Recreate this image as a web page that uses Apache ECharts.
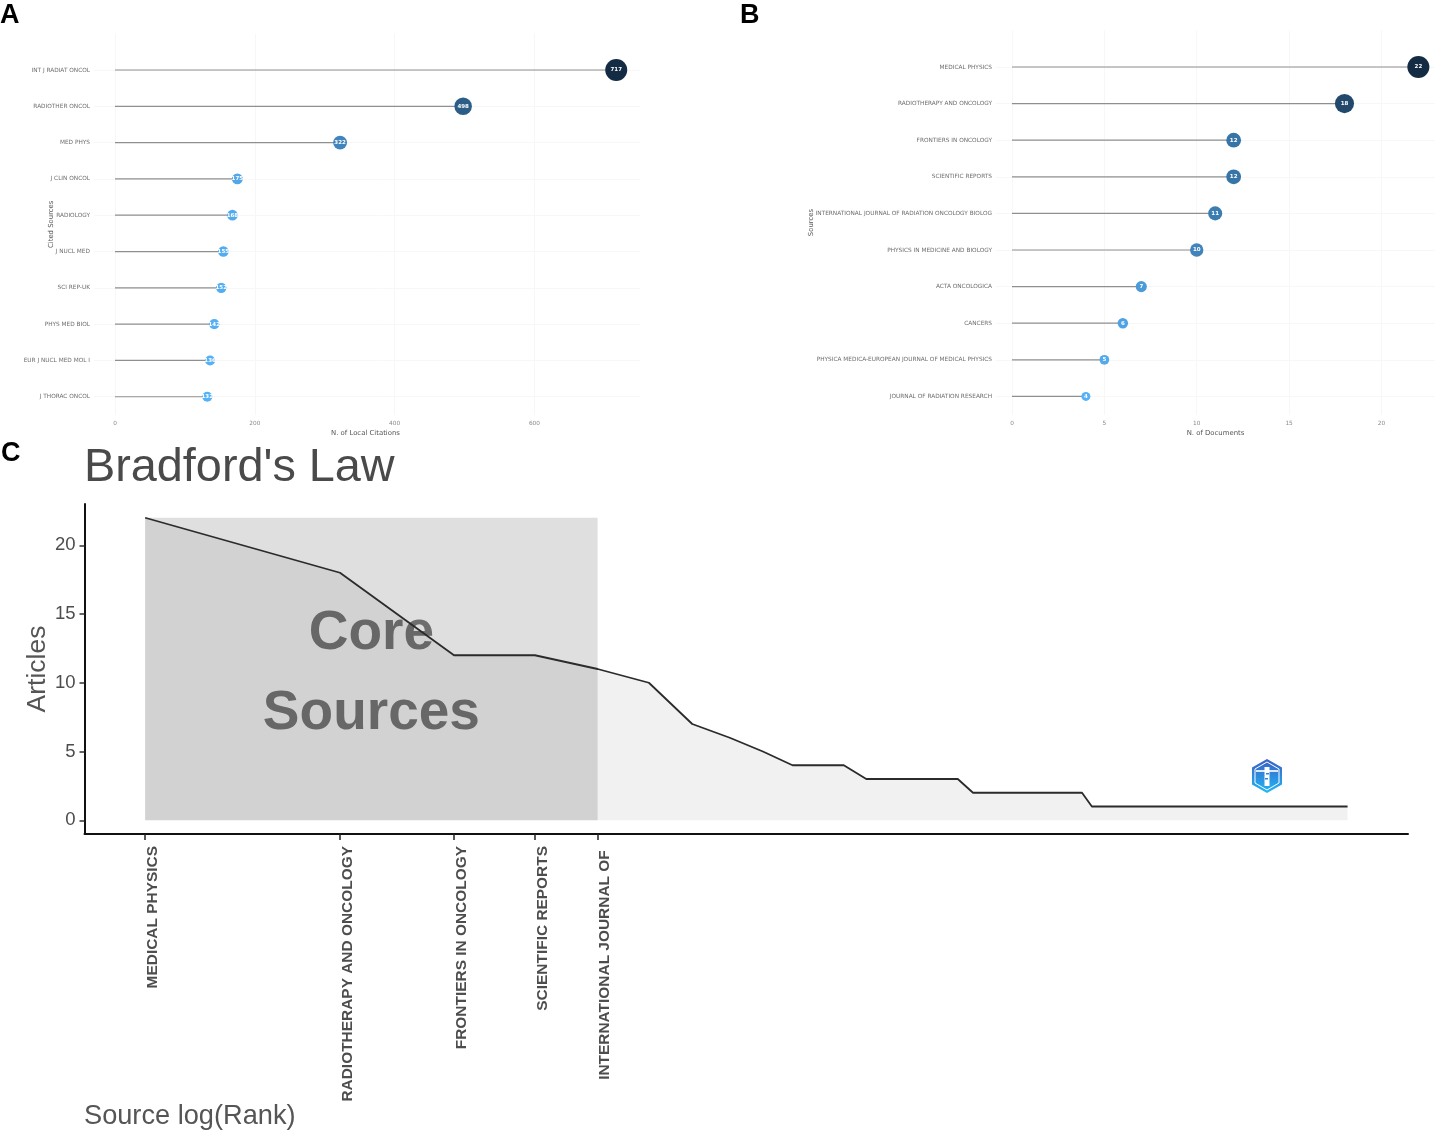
<!DOCTYPE html>
<html>
<head>
<meta charset="utf-8">
<script src="https://cdn.jsdelivr.net/npm/echarts@6/dist/echarts.min.js"></script>
<style>html,body{margin:0;padding:0;background:#fff}#c{width:1440px;height:1131px}</style>
</head>
<body>
<div id="c"></div>
<script>
const citedSources = ['INT J RADIAT ONCOL','RADIOTHER ONCOL','MED PHYS','J CLIN ONCOL','RADIOLOGY','J NUCL MED','SCI REP-UK','PHYS MED BIOL','EUR J NUCL MED MOL I','J THORAC ONCOL'];
const citedCounts = [717,498,322,175,168,155,152,142,136,132];
const sourceNames = ['MEDICAL PHYSICS','RADIOTHERAPY AND ONCOLOGY','FRONTIERS IN ONCOLOGY','SCIENTIFIC REPORTS','INTERNATIONAL JOURNAL OF RADIATION ONCOLOGY BIOLOG','PHYSICS IN MEDICINE AND BIOLOGY','ACTA ONCOLOGICA','CANCERS','PHYSICA MEDICA-EUROPEAN JOURNAL OF MEDICAL PHYSICS','JOURNAL OF RADIATION RESEARCH'];
const sourceDocs = [22,18,12,12,11,10,7,6,5,4];
const bradfordLabels = ['MEDICAL PHYSICS','RADIOTHERAPY AND ONCOLOGY','FRONTIERS IN ONCOLOGY','SCIENTIFIC REPORTS','INTERNATIONAL JOURNAL OF '];
const bradfordRanks = [1,2,3,4,5,6,7,8,9,10,12,13,18,19,28,29,72];
const bradfordArticles = [22,18,12,12,11,10,7,6,5,4,4,3,3,2,2,1,1];
const coreRanks = [1,2,3,4,5];
const coreTop = 22;
const yTicksC = [0,5,10,15,20];
const rankSlots = [1,2,3,4,5,6,7,8,9,10];

const logRank = r => Math.log2(r);
const faint = '#f7f7f7';

function lollipopAxes(gridIndex, names, xMax, xInterval, xName, yName, yGap, labelMargin, xNameShift) {
  return {
    x: {
      type:'value', gridIndex, min:0, max:xMax, interval:xInterval,
      axisLine:{show:false}, axisTick:{show:false},
      axisLabel:{showMaxLabel:false, color:'#8a8a8a', fontSize:5.8, fontFamily:'DejaVu Sans', margin:6},
      splitLine:{show:true, showMaxLine:false, lineStyle:{color:faint, width:1}},
      name:xName, nameLocation:'middle', nameGap:15, nameMoveOverlap:false,
      nameTextStyle:{color:'#555', fontSize:6.9, fontFamily:'DejaVu Sans', padding:[0,xNameShift,0,0]}
    },
    y: {
      type:'value', gridIndex, inverse:true, min:0, max:10.5, interval:1,
      axisLine:{show:false},
      axisTick:{show:true, length:labelMargin-4, customValues:rankSlots, lineStyle:{color:faint, width:1}},
      axisLabel:{customValues:rankSlots, margin:labelMargin, color:'#6e6e6e', fontSize:5.8, fontFamily:'DejaVu Sans',
        formatter:v => names[Math.round(v)-1] || ''},
      splitLine:{show:true, lineStyle:{color:faint, width:1}},
      name:yName, nameLocation:'middle', nameGap:yGap, nameRotate:90, nameMoveOverlap:false,
      nameTextStyle:{color:'#555', fontSize:6.9, fontFamily:'DejaVu Sans'}
    }
  };
}
const axA = lollipopAxes(0, citedSources, 751, 200, 'N. of Local Citations', 'Cited Sources', 60, 25, 24);
const axB = lollipopAxes(1, sourceNames, 22.9, 5, 'N. of Documents', 'Sources', 197, 20, 16);

function stems(xi, yi, values) {
  return {
    type:'custom', xAxisIndex:xi, yAxisIndex:yi, silent:true, z:2,
    data: values.map((v,i)=>[v,i+1]),
    renderItem:(p,api)=>{
      const a = api.coord([0, api.value(1)]), b = api.coord([api.value(0), api.value(1)]);
      return {type:'line', shape:{x1:a[0],y1:a[1],x2:b[0],y2:b[1]}, style:{stroke:'#8f8f8f', lineWidth:1.2}};
    }
  };
}
function dots(xi, yi, values) {
  return {
    type:'scatter', xAxisIndex:xi, yAxisIndex:yi, z:3,
    itemStyle:{opacity:1},
    data: values.map((v,i)=>[v,i+1]),
    label:{show:true, position:'inside', color:'#fff', fontSize:5.5, fontWeight:'bold', fontFamily:'DejaVu Sans',
      formatter:p=>p.value[0]}
  };
}
const letter = {fontFamily:'Liberation Sans', fontWeight:'bold', fontSize:27, color:'#000'};

const option = {
  animation:false,
  backgroundColor:'#fff',
  title:[
    {text:'A', left:0, top:2, padding:0, textStyle:letter},
    {text:'B', left:740, top:2, padding:0, textStyle:letter},
    {text:'C', left:1, top:440, padding:0, textStyle:letter},
    {text:"Bradford's Law", left:84, top:445, padding:0, textStyle:{fontFamily:'Liberation Sans', fontWeight:'normal', fontSize:46.8, color:'#4a4a4a'}},
    {text:'Source log(Rank)', left:84, top:1103, padding:0, textStyle:{fontFamily:'Liberation Sans', fontWeight:'normal', fontSize:27.2, color:'#555'}}
  ],
  grid:[
    {left:115, top:33.7, width:525, height:381.2},
    {left:1012, top:30.4, width:423, height:384.3},
    {left:84.5, top:504, width:1323.5, height:330}
  ],
  visualMap:[
    {type:'continuous', show:false, seriesIndex:1, dimension:0, min:132, max:717,
      inRange:{color:['#56B1F7','#132B43'], symbolSize:[10,22]}},
    {type:'continuous', show:false, seriesIndex:3, dimension:0, min:4, max:22,
      inRange:{color:['#56B1F7','#132B43'], symbolSize:[9,22]}}
  ],
  xAxis:[
    axA.x, axB.x,
    {type:'value', gridIndex:2, min:-0.311, max:6.48,
      axisLine:{show:true, onZero:false, lineStyle:{color:'#111', width:2}},
      axisTick:{show:true, length:6, customValues:coreRanks.map(logRank), lineStyle:{color:'#222', width:1.5}},
      axisLabel:{customValues:coreRanks.map(logRank), rotate:90, align:'right', verticalAlign:'top', margin:12,
        color:'#4d4d4d', fontSize:15.45, fontWeight:'bold', fontFamily:'Liberation Sans',
        formatter:v => bradfordLabels[coreRanks.findIndex(r=>Math.abs(logRank(r)-v)<1e-6)] || ''},
      splitLine:{show:false}}
  ],
  yAxis:[
    axA.y, axB.y,
    {type:'value', gridIndex:2, min:-1, max:23,
      axisLine:{show:true, onZero:false, lineStyle:{color:'#111', width:2}},
      axisTick:{show:true, length:5, customValues:yTicksC, lineStyle:{color:'#333', width:1.5}},
      axisLabel:{customValues:yTicksC, margin:9, color:'#4d4d4d', fontSize:18.5, fontFamily:'Liberation Sans'},
      splitLine:{show:false},
      name:'Articles', nameLocation:'middle', nameGap:33, nameRotate:90, nameMoveOverlap:false,
      nameTextStyle:{color:'#555', fontSize:26.5, fontFamily:'Liberation Sans'}}
  ],
  series:[
    stems(0,0,citedCounts), dots(0,0,citedCounts),
    stems(1,1,sourceDocs), dots(1,1,sourceDocs),
    {type:'line', xAxisIndex:2, yAxisIndex:2, showSymbol:false, z:3,
      data:bradfordRanks.map((r,i)=>[logRank(r),bradfordArticles[i]]),
      lineStyle:{color:'#2b2b2b', width:1.8},
      areaStyle:{color:'rgba(0,0,0,0.055)', origin:0, opacity:1},
      markArea:{silent:true, z:2,
        itemStyle:{color:'rgba(0,0,0,0.125)'},
        label:{show:true, position:'inside', offset:[0,5], formatter:'Core\nSources', color:'#6e6e6e', fontFamily:'Liberation Sans',
          fontWeight:'bold', fontSize:55, lineHeight:80},
        data:[[{xAxis:logRank(coreRanks[0]),yAxis:0},{xAxis:logRank(coreRanks[4]),yAxis:coreTop}]]}
    }
  ],
  graphic:[{
    type:'group', left:1252, top:759, silent:true,
    children:[
      {type:'polygon', shape:{points:[[15,0],[30,8.5],[30,25.5],[15,34],[0,25.5],[0,8.5]]},
        style:{fill:{type:'linear',x:0,y:0,x2:0,y2:1,colorStops:[{offset:0,color:'#3b5fc4'},{offset:1,color:'#21b8f6'}]}}},
      {type:'polygon', shape:{points:[[15,3],[27,10],[27,24],[15,31],[3,24],[3,10]]},
        style:{fill:'none', stroke:'#ffffff', lineWidth:1}},
      {type:'rect', shape:{x:4,y:11,width:22,height:2}, style:{fill:'#dfe9fb'}},
      {type:'rect', shape:{x:12.5,y:8,width:5,height:19}, style:{fill:'#ffffff'}},
      {type:'rect', shape:{x:14,y:14,width:3,height:1.5}, style:{fill:'#2f7fe0'}},
      {type:'rect', shape:{x:13,y:19,width:3,height:1.5}, style:{fill:'#2f7fe0'}}
    ]
  }]
};
echarts.init(document.getElementById('c')).setOption(option);
</script>
</body>
</html>
